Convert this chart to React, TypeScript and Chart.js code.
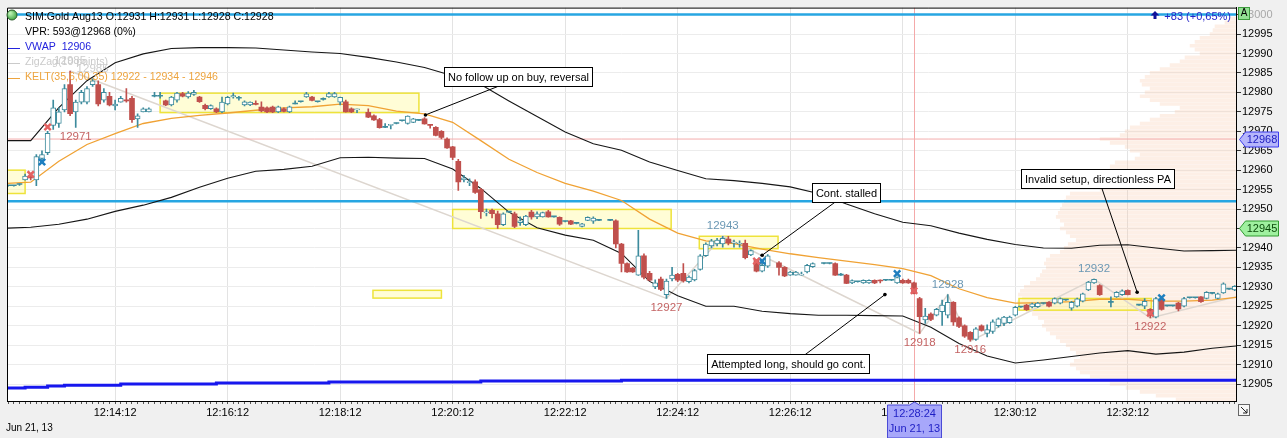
import React, { useEffect, useRef } from 'react';
import { Chart, registerables } from 'chart.js';

Chart.register(...registerables);

const FONT = "'Liberation Sans', Arial, sans-serif";
const UP = '#3d8b9d';
const DOWN = '#c0504d';

// x values are seconds from 12:14:12
const ANCHOR = 12 * 3600 + 14 * 60 + 12;
const X_MIN = -115.3;
const X_MAX = 1195.4;
const Y_MIN = 12900.64;
const Y_MAX = 13001.8;

// 6-second bars, first bar at -114 s
const barStart = -114;
const barSeconds = 6;

// [open, high, low, close], null = no trade in that bar
const ohlc: (number[] | null)[] = [
  [12956, 12956.1, 12955.9, 12956], [12956, 12956.1, 12955.9, 12956], [12956.3, 12956.5, 12956.1, 12956.3],
  [12957.5, 12959, 12957.4, 12958.5], [12958.5, 12959, 12957.5, 12958], [12957.5, 12964, 12956, 12963.5],
  [12963, 12965, 12962, 12964], [12964.5, 12970, 12964, 12969.5], [12971.5, 12978, 12970.5, 12976],
  [12972, 12976, 12971, 12975], [12975.5, 12982, 12975, 12981], [12982, 12985.5, 12974, 12974.5],
  [12975, 12978, 12971, 12977.5], [12977.5, 12980.5, 12977, 12980], [12977.5, 12981.5, 12977, 12981],
  [12982, 12983.5, 12981.5, 12983], [12982, 12983, 12976.5, 12977], [12978, 12981, 12977.5, 12980],
  [12979, 12980, 12976.5, 12976.8], [12976.5, 12978, 12975.5, 12977], [12977.5, 12979, 12977.5, 12978.5],
  [12978, 12981, 12977.5, 12977.8], [12978.5, 12979, 12972.3, 12973], [12973.2, 12974.5, 12971, 12974],
  [12975, 12976, 12975, 12975.8], [12975, 12976, 12975, 12975.8], [12979, 12980, 12978.8, 12979],
  [12979, 12980, 12978.5, 12979], [12977.8, 12978, 12976.6, 12976.8], [12976.8, 12979, 12976.5, 12978.8],
  [12978, 12980, 12977.5, 12979.8], [12979.7, 12980, 12978.8, 12979], [12978.8, 12980.2, 12978.5, 12979.8],
  [12979.5, 12980.5, 12979.2, 12980], [12978.8, 12979, 12977.4, 12977.6], [12976.7, 12977, 12975.5, 12975.8],
  [12975.8, 12976.8, 12975.6, 12976.6], [12975.8, 12976, 12974.8, 12975], [12975, 12978.8, 12974.8, 12977.5],
  [12977, 12979, 12976.8, 12978.7], [12978.8, 12979.8, 12978.5, 12979.2], [12978.5, 12979, 12978, 12978.5],
  [12976.8, 12977.8, 12976.5, 12977.6], [12976.8, 12977.6, 12976.6, 12977.5], [12977, 12977.8, 12976.8, 12976.9],
  [12976.2, 12977.6, 12975, 12975.2], [12976, 12976.3, 12974.8, 12975], [12976.2, 12976.5, 12974.8, 12975],
  [12975, 12976.5, 12974.8, 12976.3], [12975.8, 12976, 12975, 12975.1], [12975, 12976.5, 12974.8, 12976.3],
  [12977, 12977.8, 12977, 12977], [12977.6, 12977.7, 12977.5, 12977.6], [12978.8, 12980, 12978.7, 12979.6],
  [12978.8, 12979, 12977.8, 12977.9], [12977.6, 12977.7, 12977.5, 12977.6], [12978.2, 12978.6, 12978, 12978.2],
  [12978.8, 12980, 12978.7, 12979.7], [12978.8, 12980, 12978.7, 12979.7], [12977.5, 12978.8, 12976.8, 12978.7],
  [12977.6, 12978, 12974.9, 12975], [12975.8, 12976, 12974.8, 12975], [12975.5, 12975.7, 12974.8, 12975.6],
  null, [12974.9, 12975.8, 12973.5, 12973.6], [12974, 12974.2, 12972.8, 12972.9],
  [12973, 12973.3, 12970.8, 12970.9], [12971, 12972, 12970.9, 12971], [12971.5, 12971.8, 12970.6, 12971.6],
  [12972, 12972.1, 12971.9, 12972], [12972.7, 12972.8, 12972.6, 12972.7], [12972, 12974, 12971.8, 12973.9],
  [12972.3, 12973.3, 12972.2, 12973.2], [12972.8, 12972.9, 12972.7, 12972.8], [12973.2, 12973.5, 12971.8, 12971.9],
  [12971.6, 12971.8, 12970.8, 12971.5], [12971, 12971.2, 12968.8, 12968.9], [12970, 12970.2, 12968, 12968.4],
  [12968, 12968.3, 12965.6, 12965.7], [12966, 12966.1, 12962.7, 12963.3], [12962.3, 12962.8, 12954.8, 12957],
  [12957.5, 12958.7, 12957, 12958], [12956.8, 12957.8, 12956, 12957], [12957, 12957.5, 12954, 12954.3],
  [12955, 12955.3, 12947.6, 12949.3], [12949, 12950, 12948.2, 12949.2], [12949.7, 12950, 12947.7, 12948.8],
  [12948.8, 12949.5, 12945, 12946], [12946, 12949, 12945.7, 12948.8], [12949.2, 12949.3, 12949.1, 12949.2],
  [12948.8, 12949.2, 12945.2, 12945.5], [12946.5, 12948, 12945.8, 12947], [12946, 12948.4, 12945.7, 12948.2],
  [12949.2, 12949.7, 12947.4, 12948], [12948, 12949.3, 12947.5, 12948.8], [12948, 12949.2, 12947.9, 12949.1],
  [12949.3, 12949.7, 12947.9, 12948], [12948, 12948.1, 12947.9, 12948], [12947.9, 12948, 12945.8, 12946.1],
  [12946.8, 12946.9, 12946.7, 12946.8], [12947, 12947.1, 12946, 12946.1], [12946.3, 12946.4, 12946.2, 12946.3],
  [12945.5, 12946.3, 12945.4, 12946.2], [12947.1, 12948, 12947, 12947.9], [12946.9, 12948, 12946.3, 12947.7],
  [12947.1, 12947.2, 12947, 12947.1], null, [12947.1, 12947.2, 12947, 12947.1],
  [12947, 12947.2, 12940, 12941], [12941, 12941.2, 12933.8, 12936], [12936, 12936.2, 12933.7, 12933.8],
  [12934.8, 12935, 12933.7, 12933.8], [12933, 12944.5, 12932.9, 12938], [12938, 12938.5, 12932, 12932.5],
  [12933.5, 12934, 12931.5, 12931.7], [12930, 12931.8, 12929.5, 12931], [12932, 12932.5, 12929, 12929.3],
  [12928, 12932, 12927, 12931.5], [12932, 12935, 12931.5, 12933], [12933.2, 12933.5, 12931.3, 12931.7],
  [12933.5, 12936, 12931.2, 12931.5], [12931.3, 12932.8, 12931, 12932.5], [12931.8, 12934.5, 12931.5, 12934.2],
  [12934.5, 12938.3, 12934.3, 12938], [12938, 12941.3, 12937.8, 12941], [12940.5, 12942.2, 12940, 12941.8],
  [12941, 12942.5, 12940.5, 12942], [12941, 12943, 12940.2, 12942.5], [12942.3, 12943, 12940.8, 12941.3],
  [12941.2, 12942, 12940.2, 12941.5], [12941, 12941.8, 12940.2, 12941.2], [12941.2, 12942, 12937.2, 12937.5],
  [12938.2, 12939.5, 12938, 12939.3], [12936.8, 12937, 12933.8, 12934], [12934, 12936.5, 12933.8, 12935.5],
  [12935.3, 12938.3, 12935, 12938], null, [12936.2, 12936.5, 12933, 12935],
  [12935, 12935.2, 12932.6, 12932.8], [12933, 12934, 12932.9, 12933.8], [12933, 12934, 12933, 12933.8],
  [12933, 12933.8, 12933, 12933.1], [12933.8, 12935.8, 12933.6, 12935.5], [12935.2, 12936.2, 12935, 12936],
  null, [12936, 12936.1, 12935.9, 12936], [12936, 12936.1, 12935.9, 12936],
  [12936, 12936.2, 12932.9, 12933], [12933, 12933.5, 12932.9, 12933], [12933, 12933.2, 12930.8, 12930.9],
  [12931, 12931.8, 12930.8, 12931.6], [12931.3, 12931.4, 12931.2, 12931.3], [12931, 12931.8, 12930.9, 12931.7],
  [12931, 12931.8, 12930.9, 12931.7], [12931.7, 12931.8, 12930.8, 12931], [12931.6, 12931.8, 12931, 12931.5],
  [12931.7, 12931.8, 12931.6, 12931.7], [12931.7, 12931.8, 12931.6, 12931.7], [12931, 12932.6, 12930.9, 12932.4],
  [12931.7, 12932, 12930.9, 12931], [12931.7, 12932, 12930.9, 12931], [12931, 12931.2, 12928.2, 12928.3],
  [12927, 12927.3, 12918, 12922.3], [12921.5, 12924.5, 12920.6, 12922.5], [12923, 12923.3, 12921.3, 12921.6],
  [12922.7, 12924.5, 12922.5, 12924.2], [12923.6, 12926.6, 12920.1, 12925.3], [12922.7, 12928, 12922, 12926],
  [12926, 12926.2, 12920.1, 12921], [12922, 12922.3, 12919.5, 12919.8], [12920, 12920.2, 12917, 12917.3],
  [12918.3, 12918.5, 12916, 12916.5], [12916.5, 12919.5, 12916.2, 12919.2], [12920, 12920.2, 12918.6, 12918.8],
  [12918, 12920.2, 12917.1, 12919], [12918.5, 12921.5, 12918, 12921], [12920, 12922, 12919.6, 12921.8],
  [12920.6, 12922.4, 12920, 12922.2], [12920.8, 12922.5, 12920.6, 12922.2], [12922.7, 12925, 12922.5, 12924.7],
  [12924.8, 12924.9, 12924.7, 12924.8], [12925.3, 12925.5, 12923.9, 12924.1], [12924.8, 12925.8, 12924.6, 12925.6],
  [12924.9, 12926, 12924.7, 12925.8], [12925.7, 12925.8, 12925.6, 12925.7], [12926, 12926.2, 12924.8, 12925],
  [12925.8, 12927.2, 12925.6, 12927], [12925.8, 12927.2, 12925.6, 12927], [12926.6, 12926.7, 12926.5, 12926.6],
  [12924.5, 12926.3, 12924, 12926], [12925, 12927.1, 12924.8, 12926.9], [12926.3, 12928.4, 12926.1, 12928.2],
  [12929.2, 12931.4, 12929, 12931.2], [12931, 12932, 12930.9, 12931.9], [12930.3, 12930.6, 12927.8, 12928],
  null, [12926, 12927.4, 12924.8, 12926], [12927.4, 12928.8, 12927.3, 12928.6],
  [12928, 12929.2, 12927.8, 12929], [12929.1, 12929.2, 12927.9, 12928], null,
  [12925.3, 12925.4, 12925.2, 12925.3], [12925, 12927, 12924.4, 12926.3], [12924.2, 12924.4, 12922, 12922.6],
  [12922.2, 12927.3, 12922, 12927], [12926.6, 12926.8, 12924, 12924.2], [12925.1, 12925.2, 12925, 12925.1],
  [12925.1, 12925.2, 12925, 12925.1], [12925.8, 12926, 12923.8, 12924.3], [12925, 12927.3, 12924.8, 12927],
  [12927.2, 12927.3, 12927.1, 12927.2], [12927.2, 12927.3, 12927.1, 12927.2], [12927.4, 12927.5, 12926, 12926.2],
  [12927, 12928.8, 12926.9, 12928.6], [12928.3, 12928.4, 12928.2, 12928.3], [12927, 12928.4, 12926.9, 12928.2],
  [12928.4, 12931, 12928.3, 12930.8], [12929.4, 12929.5, 12929.3, 12929.4], [12929.2, 12930.3, 12929, 12930.1],
];

// Keltner channel read every 30 s
const keltTimes = [-115, -90, -60, -30, 0, 30, 60, 90, 120, 150, 180, 210, 240, 270, 300, 330, 360, 390, 420, 450, 480, 510, 540, 570, 600, 630, 660, 690, 720, 750, 780, 810, 840, 870, 900, 930, 960, 990, 1020, 1050, 1080, 1110, 1140, 1170, 1196];
const keltUpper = [12967.6, 12967.6, 12976.1, 12983.0, 12987.6, 12989.9, 12991.3, 12991.5, 12991.5, 12991.4, 12990.9, 12990.4, 12990.0, 12989.0, 12987.8, 12986.4, 12984.3, 12982.0, 12977.8, 12973.8, 12969.8, 12966.8, 12965.1, 12962.1, 12959.9, 12957.8, 12957.3, 12956.6, 12955.7, 12954.0, 12951.3, 12948.8, 12946.6, 12945.7, 12943.8, 12942.2, 12940.9, 12940.0, 12939.9, 12940.7, 12940.8, 12940.0, 12939.2, 12939.3, 12939.4];
const keltMiddle = [12956.6, 12956.9, 12962.3, 12966.6, 12969.4, 12972.0, 12973.3, 12974.1, 12974.7, 12975.4, 12976.0, 12976.3, 12977.0, 12976.6, 12975.2, 12974.5, 12972.3, 12967.6, 12962.8, 12959.4, 12956.6, 12954.6, 12952.2, 12947.4, 12943.8, 12941.8, 12941.1, 12939.7, 12938.5, 12937.5, 12936.6, 12935.7, 12934.7, 12932.9, 12929.5, 12927.2, 12925.8, 12925.9, 12926.2, 12926.8, 12926.8, 12926.3, 12926.3, 12926.6, 12927.3];
const keltLower = [12945.1, 12945.3, 12946.1, 12947.4, 12949.4, 12951.0, 12953.0, 12955.6, 12957.9, 12959.7, 12960.2, 12961.0, 12963.2, 12963.3, 12963.1, 12963.0, 12960.3, 12955.3, 12949.2, 12945.2, 12943.3, 12942.0, 12938.6, 12931.4, 12927.7, 12925.0, 12925.0, 12923.7, 12923.1, 12922.7, 12922.7, 12922.6, 12922.5, 12919.6, 12915.4, 12912.2, 12910.4, 12911.2, 12912.1, 12913.0, 12913.6, 12912.7, 12913.2, 12914.2, 12914.8];

// VWAP steps
const vwapTimes = [-116, -96, -72, -54, 6, 108, 228, 390, 540, 882, 1196];
const vwapValues = [12903.6, 12904.0, 12904.2, 12904.5, 12904.7, 12905.0, 12905.3, 12905.5, 12905.8, 12906.0, 12906.0];

// ZigZag swings
const zigzagTimes = [-48, 588, 648, 858, 888, 912, 1044, 1104, 1196];
const zigzagValues = [12985.5, 12927, 12943, 12918, 12928, 12916, 12932, 12922, 12927.5];

const swingTimes = [-48, -24, -42, 588, 648, 858, 888, 912, 1044, 1104];
const swingPrices = [12985.5, 12983.5, 12971, 12927, 12943, 12918, 12928, 12916, 12932, 12922];
const swingTexts = ['12985', '12985', '12971', '12927', '12943', '12918', '12928', '12916', '12932', '12922'];
const swingKinds = ['old', 'old', 'low', 'low', 'high', 'low', 'high', 'low', 'high', 'low'];

// volume profile, one row per point from 13000 down
const profileTop = 13000;
const profileVolume = [
  0, 6, 11, 21, 23, 26, 36, 41, 46, 41, 36, 51, 56, 66, 76, 86, 91, 96, 94, 86,
  91, 96, 86, 76, 56, 61, 76, 86, 96, 106, 111, 116, 136, 126, 111, 106, 96, 101, 121, 126,
  126, 131, 131, 136, 141, 136, 166, 170, 172, 174, 176, 178, 180, 176, 172, 176, 170, 166, 160, 168,
  172, 176, 186, 190, 192, 190, 194, 196, 200, 206, 212, 216, 218, 214, 219, 216, 210, 204, 198, 192,
  194, 190, 186, 180, 176, 170, 166, 160, 156, 162, 166, 160, 156, 146, 136, 126, 110, 96, 80, 60,
];

// setup zones
const boxStart = [-115, 48, 360, 623, 275, 964];
const boxEnd = [-96, 324, 593, 707, 348, 1105];
const boxLow = [12954.0, 12974.8, 12945.0, 12939.8, 12927.1, 12924.0];
const boxHigh = [12960.0, 12979.8, 12949.9, 12943.0, 12929.1, 12927.0];

// executions
const sellTimes = [-90, -72, 684, 852, 1104];
const sellPrices = [12958.9, 12971.1, 12936.6, 12929.0, 12923.2];
const buyTimes = [-78, 690, 834, 1116];
const buyPrices = [12962.1, 12936.6, 12933.4, 12927.2];

const levelPrices = [13000, 12952];
const pocPrice = 12968;
const axisMarkers = [12968, 12945];
const crossTime = 852;

const notes = [
  { text: 'No follow up on buy, reversal', t: 430, v: 12984.0, fromT: 408, fromV: 12981.5, toT: 331, toV: 12974.2 },
  { text: 'Cont. stalled', t: 779, v: 12954.2, fromT: 768, fromV: 12951.8, toT: 690, toV: 12938.1 },
  { text: 'Attempted long, should go cont.', t: 718, v: 12910.3, fromT: 735, fromV: 12912.4, toT: 821, toV: 12928.0 },
  { text: 'Invalid setup, directionless PA', t: 1048, v: 12957.8, fromT: 1052, fromV: 12955.6, toT: 1090, toV: 12928.6 },
];

const pad = (n: number) => String(n).padStart(2, '0');
const clock = (t: number) => {
  const s = ANCHOR + Math.round(t);
  return `${Math.floor(s / 3600)}:${pad(Math.floor((s % 3600) / 60))}:${pad(s % 60)}`;
};

const bars = ohlc
  .map((b, i) => (b ? { t: barStart + i * barSeconds, o: b[0], h: b[1], l: b[2], c: b[3] } : null))
  .filter(Boolean) as { t: number; o: number; h: number; l: number; c: number }[];

const axisTicks: number[] = [];
for (let t = barStart; t <= X_MAX; t += barSeconds) axisTicks.push(t);

const line = (times: number[], values: number[], color: string, width: number, order: number, extra: any = {}) => ({
  type: 'line',
  data: times.map((t, i) => ({ x: t, y: values[i] })),
  borderColor: color,
  borderWidth: width,
  pointRadius: 0,
  tension: 0,
  fill: false,
  order,
  xAxisID: 'x',
  yAxisID: 'y',
  ...extra,
});

const overlay = {
  id: 'overlay',
  beforeDraw(chart: any) {
    const { ctx, chartArea: a } = chart;
    ctx.save();
    ctx.fillStyle = '#ffffff';
    ctx.fillRect(a.left, a.top, a.right - a.left, a.bottom - a.top);
    ctx.restore();
  },
  afterDatasetDraw(chart: any, args: any) {
    if (args.index !== 0) return;
    const { ctx, chartArea: a, scales } = chart;
    const { x, y } = scales;
    ctx.save();
    ctx.beginPath();
    ctx.rect(a.left, a.top, a.right - a.left, a.bottom - a.top);
    ctx.clip();
    const cx = Math.round(x.getPixelForValue(crossTime)) + 0.5;
    ctx.strokeStyle = '#f4a9a9';
    ctx.lineWidth = 1;
    ctx.beginPath();
    ctx.moveTo(cx, a.top);
    ctx.lineTo(cx, a.bottom);
    ctx.stroke();
    boxStart.forEach((t0, i) => {
      const x0 = x.getPixelForValue(t0);
      const x1 = x.getPixelForValue(boxEnd[i]);
      const y0 = y.getPixelForValue(boxHigh[i]);
      const y1 = y.getPixelForValue(boxLow[i]);
      ctx.fillStyle = 'rgba(255,250,165,0.45)';
      ctx.fillRect(x0, y0, x1 - x0, y1 - y0);
      ctx.strokeStyle = '#eee33a';
      ctx.lineWidth = 1.5;
      ctx.strokeRect(x0, y0, x1 - x0, y1 - y0);
    });
    ctx.restore();
  },
  afterDatasetsDraw(chart: any) {
    const { ctx, chartArea: a, scales } = chart;
    const { x, y } = scales;
    ctx.save();
    ctx.font = `11.5px ${FONT}`;
    ctx.textAlign = 'center';
    ctx.textBaseline = 'middle';
    swingTimes.forEach((t, i) => {
      const kind = swingKinds[i];
      const px = x.getPixelForValue(t);
      const py = y.getPixelForValue(swingPrices[i]);
      ctx.fillStyle = kind === 'low' ? '#c46464' : kind === 'high' ? '#6b98b4' : '#cdcdcd';
      ctx.fillText(swingTexts[i], px, kind === 'low' ? py + 9 : py - 10);
    });

    ctx.font = `11px ${FONT}`;
    notes.forEach((n) => {
      const w = Math.round(ctx.measureText(n.text).width + 7);
      const h = 19;
      const cx = x.getPixelForValue(n.t);
      const cy = y.getPixelForValue(n.v);
      const tx = x.getPixelForValue(n.toT);
      const ty = y.getPixelForValue(n.toV);
      ctx.strokeStyle = '#000';
      ctx.fillStyle = '#000';
      ctx.lineWidth = 1;
      ctx.beginPath();
      ctx.moveTo(x.getPixelForValue(n.fromT), y.getPixelForValue(n.fromV));
      ctx.lineTo(tx, ty);
      ctx.stroke();
      ctx.beginPath();
      ctx.arc(tx, ty, 1.8, 0, Math.PI * 2);
      ctx.fill();
      const bx = Math.round(cx - w / 2) + 0.5;
      const by = Math.round(cy - h / 2) + 0.5;
      ctx.fillStyle = '#fff';
      ctx.fillRect(bx, by, w, h);
      ctx.strokeRect(bx, by, w, h);
      ctx.fillStyle = '#000';
      ctx.fillText(n.text, bx + w / 2, by + h / 2 + 0.5);
    });

    // frame
    ctx.strokeStyle = '#000';
    ctx.lineWidth = 1;
    ctx.beginPath();
    ctx.moveTo(a.left + 0.5, a.bottom);
    ctx.lineTo(a.left + 0.5, a.top + 0.5);
    ctx.lineTo(a.right, a.top + 0.5);
    ctx.stroke();
    ctx.restore();
  },
  afterDraw(chart: any) {
    const { ctx, chartArea: a, scales } = chart;
    const { x, y } = scales;
    ctx.save();
    ctx.textBaseline = 'middle';

    // legend
    const g = ctx.createRadialGradient(10, 13, 1, 12, 15, 6);
    g.addColorStop(0, '#b8f0b0');
    g.addColorStop(1, '#2f9a35');
    ctx.fillStyle = g;
    ctx.beginPath();
    ctx.arc(12, 15, 5, 0, Math.PI * 2);
    ctx.fill();
    ctx.strokeStyle = '#2c5a2c';
    ctx.lineWidth = 1;
    ctx.stroke();
    ctx.font = `10.6px ${FONT}`;
    ctx.textAlign = 'left';
    ctx.fillStyle = '#000';
    ctx.fillText('SIM:Gold Aug13 O:12931 H:12931 L:12928 C:12928', 25, 17);
    ctx.fillText('VPR: 593@12968 (0%)', 25, 32.5);
    const legendRows = [
      { text: 'VWAP  12906', color: '#2323dd', yy: 47.5 },
      { text: 'ZigZag(10 points)', color: '#cacaca', yy: 62.5 },
      { text: 'KELT(35,6,00,35) 12922 - 12934 - 12946', color: '#eda43e', yy: 77.5 },
    ];
    legendRows.forEach((r) => {
      ctx.strokeStyle = r.color;
      ctx.beginPath();
      ctx.moveTo(8, Math.round(r.yy) + 0.5);
      ctx.lineTo(20, Math.round(r.yy) + 0.5);
      ctx.stroke();
      ctx.fillStyle = r.color;
      ctx.fillText(r.text, 25, r.yy);
    });

    // top right change
    ctx.fillStyle = '#2424c8';
    ctx.textAlign = 'right';
    ctx.font = `11px ${FONT}`;
    ctx.fillText('+83 (+0,65%)', 1231, 17);
    ctx.fillStyle = '#10109a';
    ctx.beginPath();
    ctx.moveTo(1155, 11);
    ctx.lineTo(1159.5, 15.5);
    ctx.lineTo(1156.5, 15.5);
    ctx.lineTo(1156.5, 19);
    ctx.lineTo(1153.5, 19);
    ctx.lineTo(1153.5, 15.5);
    ctx.lineTo(1150.5, 15.5);
    ctx.closePath();
    ctx.fill();

    // "A" box
    ctx.fillStyle = '#92e192';
    ctx.fillRect(1238, 7, 11, 12);
    ctx.strokeStyle = '#3d9b3d';
    ctx.strokeRect(1238.5, 7.5, 11, 12);
    ctx.fillStyle = '#000';
    ctx.textAlign = 'center';
    ctx.font = `10px ${FONT}`;
    ctx.fillText('A', 1244, 13.5);

    // axis price markers
    const styles = [
      { fill: '#b6b6fb', stroke: '#3a3aee', text: '#2020c0' },
      { fill: '#9ff09f', stroke: '#2f9a2f', text: '#0b4a0b' },
    ];
    ctx.font = `11px ${FONT}`;
    axisMarkers.forEach((p, i) => {
      const st = styles[i];
      const py = Math.round(y.getPixelForValue(p)) + 0.5;
      const x0 = a.right + 3.5;
      ctx.beginPath();
      ctx.moveTo(x0, py);
      ctx.lineTo(x0 + 6, py - 7.5);
      ctx.lineTo(1278.5, py - 7.5);
      ctx.lineTo(1278.5, py + 7.5);
      ctx.lineTo(x0 + 6, py + 7.5);
      ctx.closePath();
      ctx.fillStyle = st.fill;
      ctx.fill();
      ctx.strokeStyle = st.stroke;
      ctx.stroke();
      ctx.fillStyle = st.text;
      ctx.textAlign = 'center';
      ctx.fillText(String(p), (x0 + 6 + 1278.5) / 2, py + 0.5);
    });

    // crosshair time label
    const tx = Math.round(x.getPixelForValue(crossTime)) + 0.5;
    ctx.beginPath();
    ctx.moveTo(tx, a.bottom + 1);
    ctx.lineTo(tx + 5, a.bottom + 4);
    ctx.lineTo(tx + 27, a.bottom + 4);
    ctx.lineTo(tx + 27, 438);
    ctx.lineTo(tx - 27, 438);
    ctx.lineTo(tx - 27, a.bottom + 4);
    ctx.lineTo(tx - 5, a.bottom + 4);
    ctx.closePath();
    ctx.fillStyle = '#a7a7fa';
    ctx.fill();
    ctx.strokeStyle = '#4a4ad6';
    ctx.stroke();
    ctx.fillStyle = '#1e1ec4';
    ctx.fillText(clock(crossTime), tx, a.bottom + 13);
    ctx.fillText('Jun 21, 13', tx, a.bottom + 28);

    // date at left
    ctx.fillStyle = '#000';
    ctx.textAlign = 'left';
    ctx.font = `10px ${FONT}`;
    ctx.fillText('Jun 21, 13', 6, 428);

    // corner icon
    ctx.fillStyle = '#f7f7f7';
    ctx.fillRect(1238.5, 404.5, 11, 11);
    ctx.strokeStyle = '#666';
    ctx.strokeRect(1238.5, 404.5, 11, 11);
    ctx.strokeStyle = '#222';
    ctx.beginPath();
    ctx.moveTo(1241, 407);
    ctx.lineTo(1247, 413);
    ctx.moveTo(1247, 409);
    ctx.lineTo(1247, 413);
    ctx.lineTo(1243, 413);
    ctx.stroke();
    ctx.restore();
  },
};

export default function App() {
  const canvasRef = useRef<HTMLCanvasElement>(null);
  const chartRef = useRef<Chart | null>(null);

  useEffect(() => {
    document.body.style.margin = '0';
    if (!canvasRef.current) return;
    if (chartRef.current) chartRef.current.destroy();

    const upBar = (b: any) => b.c >= b.o;

    const datasets: any[] = [
      {
        type: 'bar',
        indexAxis: 'y',
        xAxisID: 'xv',
        yAxisID: 'y',
        data: profileVolume.map((v, i) => ({ x: v, y: profileTop - i })),
        backgroundColor: 'rgba(248,196,164,0.28)',
        barThickness: 3,
        grouped: false,
        order: 20,
      },
      line(zigzagTimes, zigzagValues, '#ddd6cf', 1.5, 15),
      line(vwapTimes, vwapValues, '#1717ee', 3, 14, { stepped: 'after' }),
      line([X_MIN, X_MAX], [pocPrice, pocPrice], '#f4adad', 1, 13),
      ...levelPrices.map((p) => line([X_MIN, X_MAX], [p, p], '#27a6e2', 2.5, 12)),
      line(keltTimes, keltUpper, '#161616', 1.1, 11),
      line(keltTimes, keltLower, '#161616', 1.1, 10),
      line(keltTimes, keltMiddle, '#f0a234', 1.3, 9),
      {
        type: 'bar',
        xAxisID: 'x',
        yAxisID: 'y',
        data: bars.map((b) => ({ x: b.t, y: [b.l, b.h] })),
        backgroundColor: bars.map((b) => (upBar(b) ? UP : DOWN)),
        barThickness: 1,
        grouped: false,
        order: 5,
      },
      {
        type: 'bar',
        xAxisID: 'x',
        yAxisID: 'y',
        data: bars.map((b) => ({ x: b.t, y: [Math.min(b.o, b.c), Math.max(b.o, b.c)] })),
        backgroundColor: bars.map((b) => (b.c === b.o ? UP : upBar(b) ? '#ffffff' : DOWN)),
        borderColor: bars.map((b) => (upBar(b) ? UP : DOWN)),
        borderWidth: bars.map((b) => (b.c > b.o ? 1 : 0)),
        borderSkipped: false,
        minBarLength: 1,
        barThickness: 5,
        grouped: false,
        order: 4,
      },
      {
        type: 'line',
        xAxisID: 'x',
        yAxisID: 'y',
        showLine: false,
        data: sellTimes.map((t, i) => ({ x: t, y: sellPrices[i] })),
        pointStyle: 'crossRot',
        pointRadius: 4.5,
        pointBorderWidth: 2.5,
        pointBorderColor: '#e46262',
        order: 1,
      },
      {
        type: 'line',
        xAxisID: 'x',
        yAxisID: 'y',
        showLine: false,
        data: buyTimes.map((t, i) => ({ x: t, y: buyPrices[i] })),
        pointStyle: 'crossRot',
        pointRadius: 4.5,
        pointBorderWidth: 2.5,
        pointBorderColor: '#1f7fbf',
        order: 1,
      },
    ];

    chartRef.current = new Chart(canvasRef.current, {
      type: 'bar',
      data: { datasets },
      options: {
        responsive: false,
        animation: false,
        events: [],
        layout: { padding: { left: 5, top: 7, right: 0, bottom: 0 } },
        plugins: { legend: { display: false }, tooltip: { enabled: false } },
        scales: {
          x: {
            type: 'linear',
            min: X_MIN,
            max: X_MAX,
            offset: false,
            afterBuildTicks: (s: any) => {
              s.ticks = axisTicks.map((v) => ({ value: v }));
            },
            afterFit: (s: any) => {
              s.height = 37;
            },
            grid: {
              offset: false,
              color: (c: any) => (c.tick && c.tick.value % 120 === 0 ? '#e3e3e3' : 'rgba(0,0,0,0)'),
              tickColor: '#555',
              tickLength: 3,
            },
            border: { color: '#000', width: 1 },
            ticks: {
              autoSkip: false,
              maxRotation: 0,
              padding: 2,
              color: '#000',
              font: { family: FONT, size: 11 },
              callback: (v: any) => (Math.round(v) % 120 === 0 ? clock(v) : ''),
            },
          },
          xv: { type: 'linear', axis: 'x', display: false, reverse: true, min: 0, max: 1231, offset: false, grid: { offset: false } },
          y: {
            type: 'linear',
            position: 'right',
            min: Y_MIN,
            max: Y_MAX,
            offset: false,
            afterFit: (s: any) => {
              s.width = 51;
            },
            grid: { offset: false, color: '#ececec', tickColor: '#333', tickLength: 5 },
            border: { color: '#000', width: 1 },
            ticks: {
              stepSize: 5,
              includeBounds: false,
              padding: 1,
              color: (c: any) => (c.tick && c.tick.value >= 13000 ? '#a8a8a8' : '#000'),
              font: { family: FONT, size: 11 },
              callback: (v: any) => String(Math.round(v)),
            },
          },
        },
      },
      plugins: [overlay],
    } as any);

    return () => {
      if (chartRef.current) {
        chartRef.current.destroy();
        chartRef.current = null;
      }
    };
  }, []);

  return (
    <div style={{ width: 1287, height: 438, background: '#f0f0f0', overflow: 'hidden' }}>
      <canvas ref={canvasRef} width={1287} height={438} style={{ display: 'block', width: 1287, height: 438 }} />
    </div>
  );
}
